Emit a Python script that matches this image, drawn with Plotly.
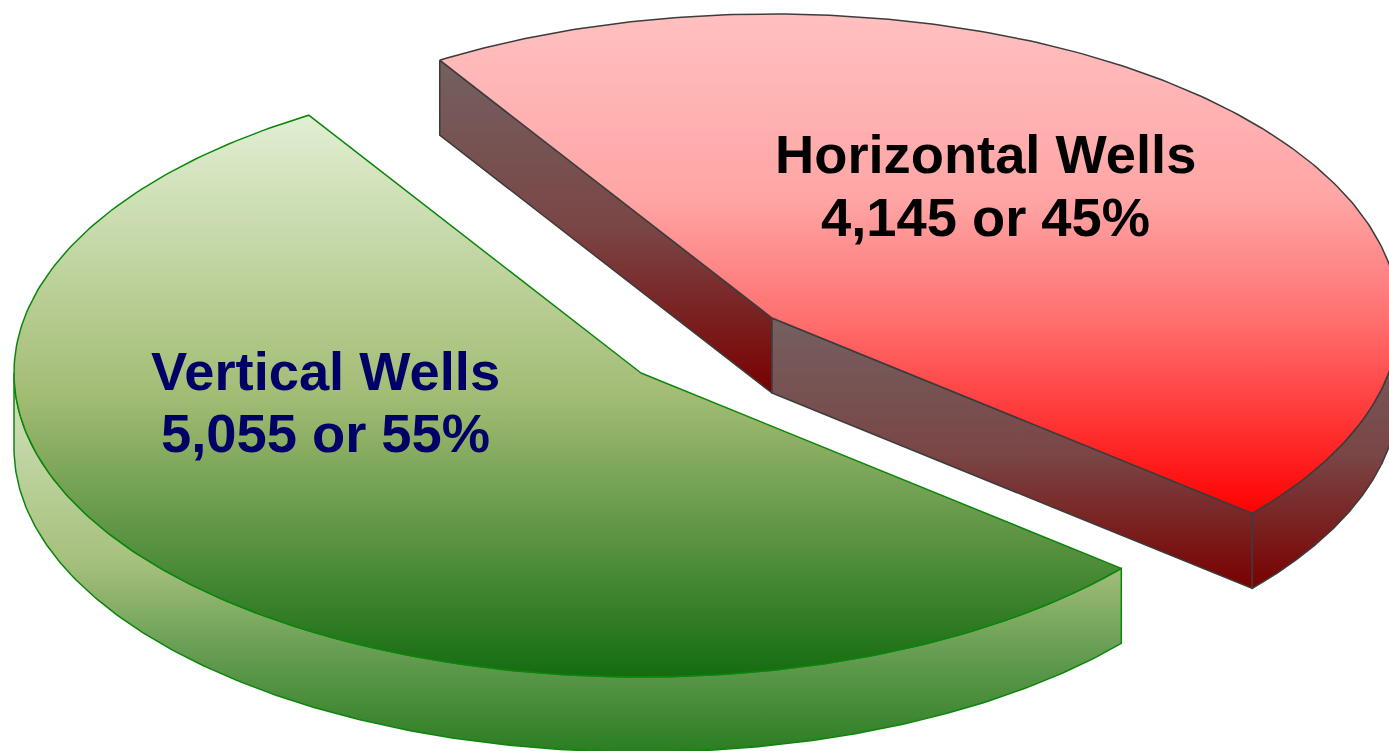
import numpy as np
import plotly.graph_objects as go

labels = ["Horizontal Wells", "Vertical Wells"]
wells = [4145, 5055]
percents = [45, 55]

W, H = 1389, 751
RX, RY, DEPTH = 627, 304, 75
START_DEG = 122.0
CENTERS = {"Horizontal Wells": (772, 318), "Vertical Wells": (641, 373)}
a0 = START_DEG
a1 = a0 - 360 * percents[0] / 100   # horizontal slice clockwise
a2 = a1 - 360 * percents[1] / 100   # vertical slice continues


def rim(c, t_from, t_to, dz=0, n=240):
    t = np.radians(np.linspace(t_from, t_to, n))
    return c[0] + RX * np.cos(t), c[1] - RY * np.sin(t) + dz


def poly(x, y, stops, line):
    x = list(x) + [x[0]]
    y = list(y) + [y[0]]
    # the y axis runs downward, so the gradient stops are mirrored
    flipped = [[1 - s, col] for s, col in reversed(stops)]
    return go.Scatter(x=x, y=y, mode="lines", fill="toself",
                      fillgradient=dict(type="vertical", colorscale=flipped),
                      line=dict(color=line, width=1.5), hoverinfo="skip", showlegend=False)


fig = go.Figure()

# green slice
c = CENTERS[labels[1]]
GL = "#0b860b"
sx, sy = rim(c, -180, a1, 0)
bx, by = rim(c, a1, -180, DEPTH)
green_side = [[0, "#d3e4bf"], [0.5, "#a6c07c"], [0.72, "#6a9f55"], [1, "#2b7d22"]]
fig.add_trace(poly(np.r_[sx, bx], np.r_[sy, by], green_side, GL))
tx, ty = rim(c, a1, a2)
green_top = [[0, "#e1efd3"], [0.5, "#a3bc74"], [1, "#146c10"]]
fig.add_trace(poly(np.r_[c[0], tx], np.r_[c[1], ty], green_top, GL))

# red slice
c = CENTERS[labels[0]]
RL = "#3c3c3c"
red_side = [[0, "#746060"], [0.5, "#7a4646"], [1, "#7a0000"]]
p0 = rim(c, a0, a0, n=1)
p1 = rim(c, a1, a1, n=1)
fig.add_trace(poly([p0[0][0], c[0], c[0], p0[0][0]],
                   [p0[1][0], c[1], c[1] + DEPTH, p0[1][0] + DEPTH], red_side, RL))
fig.add_trace(poly([c[0], p1[0][0], p1[0][0], c[0]],
                   [c[1], p1[1][0], p1[1][0] + DEPTH, c[1] + DEPTH], red_side, RL))
sx, sy = rim(c, 0, a1)
bx, by = rim(c, a1, 0, DEPTH)
fig.add_trace(poly(np.r_[sx, bx], np.r_[sy, by], red_side, RL))
tx, ty = rim(c, a0, a1)
red_top = [[0, "#ffc0c0"], [0.37, "#ffa5a5"], [0.61, "#ff7070"], [1, "#ff0000"]]
fig.add_trace(poly(np.r_[c[0], tx], np.r_[c[1], ty], red_top, RL))

FONT = "Liberation Sans"
label_pos = {labels[0]: (985, 154.5, 217), labels[1]: (325, 371, 433.5)}
label_col = {labels[0]: "#000000", labels[1]: "#000066"}
for lab, val, pct in zip(labels, wells, percents):
    x, y1, y2 = label_pos[lab]
    for y, line in ((y1, lab), (y2, f"{val:,} or {pct}%")):
        fig.add_annotation(x=x, y=y, xref="x", yref="y", text=f"<b>{line}</b>", showarrow=False,
                           font=dict(family=FONT, size=54.3, color=label_col[lab]),
                           xanchor="center", yanchor="middle")

fig.update_xaxes(range=[0, W], visible=False, fixedrange=True)
fig.update_yaxes(range=[H, 0], visible=False, fixedrange=True)
fig.update_layout(width=W, height=H, margin=dict(l=0, r=0, t=0, b=0),
                  paper_bgcolor="white", plot_bgcolor="white", showlegend=False)
fig.write_html("out.html", config=dict(displayModeBar=False),
               post_script="document.body.style.margin='0';document.body.style.overflow='hidden';")
